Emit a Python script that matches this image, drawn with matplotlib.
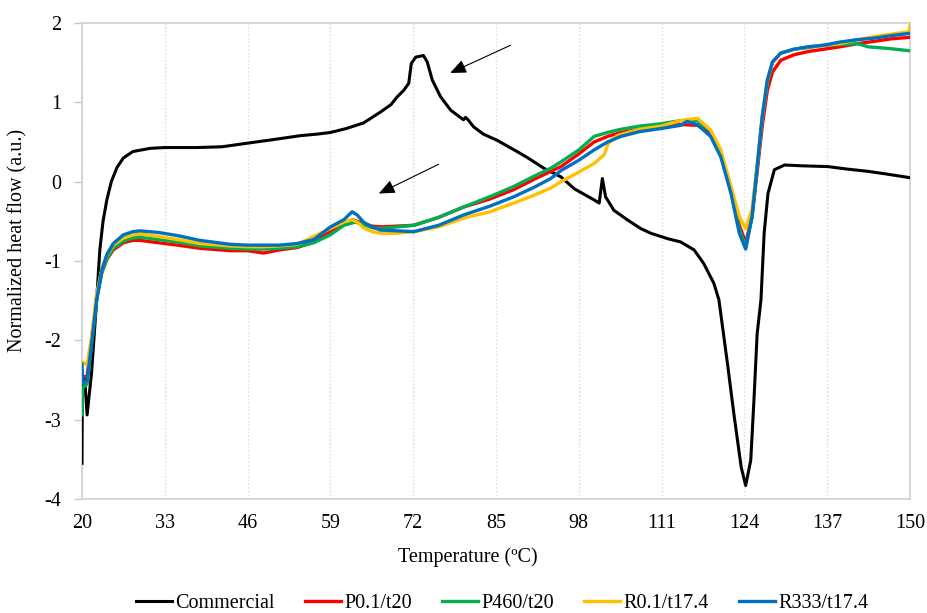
import numpy as np
import matplotlib.pyplot as plt

plt.rcParams['font.family'] = ['Liberation Serif', 'DejaVu Serif']
plt.rcParams['axes.unicode_minus'] = False

# Commercial (black)
com_x = [20, 20.05, 20.4, 20.8, 21.5, 22.3, 22.8, 23.3, 23.9, 24.6, 25.5, 26.5, 28, 30.7, 33, 38, 42,
         46.4, 50, 54.3, 57, 59, 61.5, 64.2, 66.9, 68.5, 69.5, 70.5, 71.3, 71.7, 72.4, 73.6, 74.2, 75,
         76.3, 77.9, 79.9, 80.2, 80.5, 81.5, 83, 85.2, 88.3, 90, 92.5, 95.2, 97.3, 100.4, 101.2, 101.7,
         102.2, 103.5, 105.6, 107.7, 109.3, 112, 114, 116.1, 117.6, 119.2, 120, 121.4, 122.4, 123.5,
         124.2, 125, 125.5, 126, 126.6, 127.1, 127.7, 128.7, 130.3, 133, 137.1, 140, 143.4, 146, 150]
com_y = [-3.55, -2.6, -2.46, -2.94, -2.41, -1.49, -0.86, -0.5, -0.23, 0.0, 0.18, 0.3, 0.38, 0.42, 0.43,
         0.43, 0.44, 0.49, 0.53, 0.58, 0.60, 0.62, 0.67, 0.74, 0.88, 0.97, 1.07, 1.15, 1.24, 1.49, 1.57,
         1.59, 1.51, 1.28, 1.07, 0.90, 0.78, 0.81, 0.79, 0.69, 0.60, 0.52, 0.38, 0.30, 0.17, 0.06, -0.09,
         -0.23, -0.27, 0.04, -0.19, -0.36, -0.48, -0.59, -0.65, -0.72, -0.76, -0.86, -1.03, -1.28, -1.49,
         -2.33, -2.96, -3.60, -3.83, -3.51, -2.75, -1.92, -1.49, -0.65, -0.15, 0.15, 0.21, 0.20, 0.19,
         0.16, 0.13, 0.10, 0.05]

# P0.1/t20 (red)
red_x = [20, 20.1, 20.8, 21.5, 22.3, 23.1, 23.9, 24.9, 26.5, 28, 29.1, 32, 35, 38.5, 43.3, 46, 48.5, 51,
         53.8, 56.4, 59, 61.1, 62.5, 63.2, 64.2, 65.5, 66.9, 69.5, 72.1, 76, 79.9, 84, 87.8, 91, 93.6,
         95.2, 98, 100.4, 102.5, 104.6, 107.5, 110.9, 114, 116.6, 118.7, 120.3, 121.9, 123.2, 124.2,
         125.2, 126, 126.8, 127.6, 128.4, 129.7, 131.8, 134, 136.5, 139, 141.8, 144.5, 147, 150]
red_y = [-2.4, -2.47, -2.45, -2.0, -1.45, -1.15, -0.98, -0.86, -0.77, -0.74, -0.74, -0.77, -0.80, -0.84,
         -0.87, -0.87, -0.90, -0.86, -0.83, -0.76, -0.63, -0.52, -0.48, -0.50, -0.53, -0.56, -0.57, -0.56,
         -0.55, -0.45, -0.32, -0.22, -0.10, 0.03, 0.13, 0.19, 0.35, 0.50, 0.57, 0.62, 0.66, 0.70, 0.72,
         0.71, 0.62, 0.36, -0.10, -0.55, -0.77, -0.44, 0.12, 0.70, 1.15, 1.38, 1.53, 1.60, 1.64, 1.67,
         1.70, 1.74, 1.77, 1.80, 1.82]

# P460/t20 (green)
grn_x = [20, 20.1, 20.8, 21.5, 22.3, 23.1, 23.9, 24.9, 26.5, 28, 29.1, 32, 35, 38.5, 43.3, 46, 48.5, 51,
         53.8, 56.4, 59, 61.1, 62.9, 64.2, 65.5, 66.9, 69.5, 72.1, 76, 79.9, 84, 87.8, 91, 93.6, 95.2, 98,
         100.4, 102.5, 104.6, 107.5, 110.9, 114, 116.6, 118.7, 120.3, 121.9, 123.2, 124.2, 125.2, 126,
         126.8, 127.6, 128.4, 129.7, 131.8, 134, 136.5, 139, 141.8, 143.4, 146.5, 150]
grn_y = [-2.94, -2.6, -2.55, -2.05, -1.5, -1.15, -0.97, -0.84, -0.75, -0.71, -0.70, -0.73, -0.76, -0.81,
         -0.84, -0.85, -0.85, -0.84, -0.82, -0.77, -0.67, -0.55, -0.51, -0.54, -0.58, -0.59, -0.57, -0.55,
         -0.45, -0.32, -0.19, -0.06, 0.07, 0.17, 0.25, 0.40, 0.57, 0.62, 0.66, 0.70, 0.73, 0.77, 0.77,
         0.64, 0.36, -0.12, -0.60, -0.82, -0.44, 0.17, 0.80, 1.25, 1.50, 1.62, 1.67, 1.69, 1.72, 1.73,
         1.74, 1.70, 1.68, 1.65]

# R0.1/t17.4 (yellow)
yel_x = [20, 20.8, 21.5, 22.3, 23.1, 23.9, 24.9, 26.5, 28, 29.1, 32, 35, 38.5, 43.3, 46, 48.5, 51, 53.8,
         56.4, 59, 61.1, 62.4, 63.2, 64.2, 65.5, 66.9, 69.5, 72.1, 76, 79.9, 84, 87.8, 91, 93.6, 95.2, 98,
         100.4, 102, 102.6, 104, 107.5, 110.9, 114, 116.6, 118.7, 120.3, 121.9, 123.2, 124.2, 125.2, 126,
         126.8, 127.6, 128.4, 129.7, 131.8, 134, 136.5, 139, 141.8, 144.5, 147, 149.8, 150]
yel_y = [-2.27, -2.31, -1.95, -1.42, -1.1, -0.93, -0.80, -0.71, -0.67, -0.66, -0.69, -0.73, -0.78, -0.81,
         -0.82, -0.82, -0.81, -0.79, -0.69, -0.59, -0.51, -0.48, -0.51, -0.58, -0.63, -0.65, -0.65, -0.63,
         -0.57, -0.46, -0.38, -0.27, -0.17, -0.08, 0.00, 0.12, 0.23, 0.34, 0.48, 0.58, 0.66, 0.70, 0.77,
         0.80, 0.65, 0.40, -0.06, -0.44, -0.59, -0.35, 0.22, 0.82, 1.28, 1.50, 1.62, 1.67, 1.70, 1.72,
         1.74, 1.79, 1.83, 1.86, 1.89, 1.97]

# R333/t17.4 (blue)
blu_x = [20, 20.1, 20.8, 21.5, 22.3, 23.1, 23.9, 24.9, 26.5, 28, 29.1, 32, 35, 38.5, 43.3, 46, 48.5, 51,
         53.8, 56.4, 59, 61.1, 62.4, 63.2, 64.2, 65.5, 66.9, 69.5, 72.1, 76, 79.9, 84, 87.8, 91, 93.6,
         95.2, 98, 100.4, 102.5, 104.6, 107.5, 110.9, 114, 115, 116.6, 118.7, 120.3, 121.9, 123.2, 124.2,
         125.2, 126, 126.8, 127.6, 128.4, 129.7, 131.8, 134, 136.5, 139, 141.8, 144.5, 147, 150]
blu_y = [-2.3, -2.55, -2.5, -2.05, -1.49, -1.12, -0.92, -0.78, -0.67, -0.63, -0.62, -0.64, -0.68, -0.74,
         -0.79, -0.80, -0.80, -0.80, -0.78, -0.73, -0.57, -0.48, -0.38, -0.42, -0.51, -0.57, -0.61, -0.62,
         -0.63, -0.55, -0.42, -0.31, -0.19, -0.07, 0.04, 0.14, 0.27, 0.40, 0.50, 0.57, 0.63, 0.67, 0.71,
         0.76, 0.72, 0.57, 0.31, -0.15, -0.65, -0.85, -0.44, 0.19, 0.82, 1.28, 1.51, 1.62, 1.67, 1.70,
         1.72, 1.76, 1.79, 1.81, 1.84, 1.87]

x_ticks = [20, 33, 46, 59, 72, 85, 98, 111, 124, 137, 150]
y_ticks = [-4, -3, -2, -1, 0, 1, 2]

fig = plt.figure(figsize=(9.27, 6.13), dpi=100)
ax = fig.add_axes([82 / 927, 1 - 499 / 613, (910 - 82) / 927, (499 - 23) / 613])

ax.plot(com_x, com_y, color='black', lw=2.2, label='Commercial', zorder=3)
ax.plot(red_x, red_y, color='#FF0000', lw=2.4, label='P0.1/t20', zorder=4)
ax.plot(grn_x, grn_y, color='#00B050', lw=2.4, label='P460/t20', zorder=5)
ax.plot(yel_x, yel_y, color='#FFC000', lw=2.4, label='R0.1/t17.4', zorder=6)
ax.plot(blu_x, blu_y, color='#0070C0', lw=2.4, label='R333/t17.4', zorder=7)

ax.set_xlim(20, 150)
ax.set_ylim(-4, 2)
ax.set_xticks(x_ticks)
ax.set_yticks(y_ticks)
ax.tick_params(axis='x', length=0, pad=11, labelsize=14.5)
ax.tick_params(axis='y', length=6, width=1, color='#c8c8c8', pad=9, labelsize=14.5)
for s in ax.spines.values():
    s.set_color('#d0d0d0')
    s.set_linewidth(1.2)
ax.grid(axis='x', color='#d9d9d9', linestyle=':', linewidth=1)
ax.set_axisbelow(True)

# arrows
arr = dict(arrowstyle='-|>,head_length=0.7,head_width=0.3', color='black', lw=0.8,
           mutation_scale=14, shrinkA=0, shrinkB=0)
ax.annotate('', xy=(77.8, 1.37), xytext=(87.3, 1.72), arrowprops=arr)
ax.annotate('', xy=(66.6, -0.15), xytext=(76.0, 0.22), arrowprops=arr)

fig.text(468 / 927, 1 - 557 / 613, 'Temperature (ºC)', ha='center', va='center', fontsize=14.5)
fig.text(18 / 927, 1 - 240 / 613, 'Normalized heat flow (a.u.)', ha='center', va='center',
         rotation=90, fontsize=14.5)

fig.legend(loc='center', bbox_to_anchor=(502 / 927, 1 - 603 / 613), ncol=5, frameon=False,
           fontsize=14.5, handlelength=1.8, handletextpad=0.15, columnspacing=1.5)

fig.savefig('out.png', dpi=100)
